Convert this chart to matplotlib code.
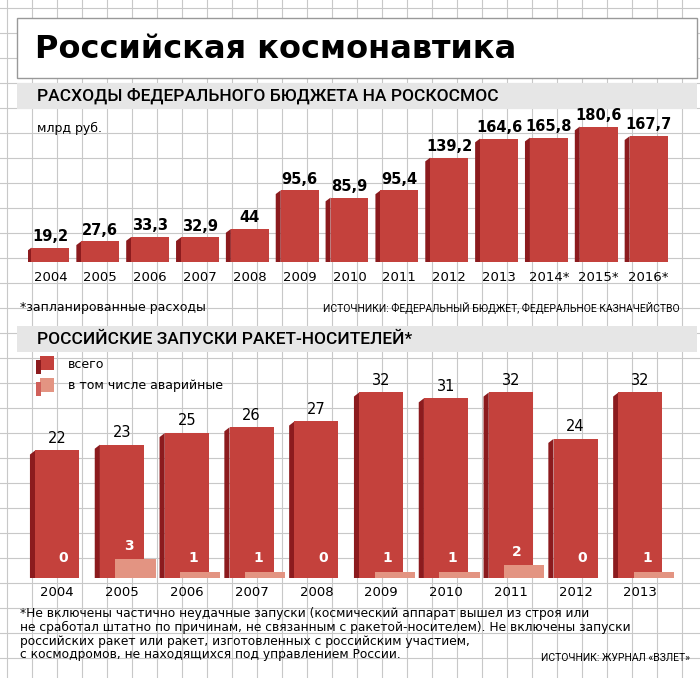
import matplotlib.pyplot as plt
from matplotlib.patches import Polygon, Rectangle

# data
budget_years = ['2004', '2005', '2006', '2007', '2008', '2009', '2010', '2011', '2012',
                '2013', '2014*', '2015*', '2016*']
budget = [19.2, 27.6, 33.3, 32.9, 44, 95.6, 85.9, 95.4, 139.2, 164.6, 165.8, 180.6, 167.7]

launch_years = ['2004', '2005', '2006', '2007', '2008', '2009', '2010', '2011', '2012', '2013']
launches = [22, 23, 25, 26, 27, 32, 31, 32, 24, 32]
failures = [0, 3, 1, 1, 0, 1, 1, 2, 0, 1]

footnote = ['*Не включены частично неудачные запуски (космический аппарат вышел из строя или',
            'не сработал штатно по причинам, не связанным с ракетой-носителем). Не включены запуски',
            'российских ракет или ракет, изготовленных с российским участием,',
            'с космодромов, не находящихся под управлением России.']

RED = '#c4413c'
DARK = '#8c1b1e'
LIGHT = '#e39482'
W, H = 700, 678

fig = plt.figure(figsize=(7, 6.78), dpi=100)
bg = fig.add_axes([0, 0, 1, 1])
bg.set_xlim(0, W); bg.set_ylim(H, 0); bg.axis('off')
for x in range(7, W, 25):
    bg.axvline(x, color='#c8c8c8', lw=0.8, zorder=0)
for y in range(8, H, 25):
    bg.axhline(y, color='#c8c8c8', lw=0.8, zorder=0)

# title box
bg.add_patch(Rectangle((17, 18), 680, 60, fc='white', ec='#999999', lw=1, zorder=1))
bg.text(35, 50, 'Российская космонавтика', fontsize=23, fontweight='bold', va='center', zorder=2)
for y0, txt in [(83, 'РАСХОДЫ ФЕДЕРАЛЬНОГО БЮДЖЕТА НА РОСКОСМОС'),
                (326, 'РОССИЙСКИЕ ЗАПУСКИ РАКЕТ-НОСИТЕЛЕЙ*')]:
    bg.add_patch(Rectangle((17, y0), 680, 26, fc='#e6e6e6', ec='none', zorder=1))
    bg.text(37, y0 + 13, txt, fontsize=12.5, va='center', fontfamily='Roboto',
            fontweight='medium', zorder=2)
bg.text(37, 128, 'млрд руб.', fontsize=9, va='center', zorder=2)
bg.text(20, 308, '*запланированные расходы', fontsize=9, va='center', zorder=2)
bg.text(680, 308, 'ИСТОЧНИКИ: ФЕДЕРАЛЬНЫЙ БЮДЖЕТ, ФЕДЕРАЛЬНОЕ КАЗНАЧЕЙСТВО',
        fontsize=7.5, va='center', ha='right', fontfamily='Roboto', zorder=2)
for k, line in enumerate(footnote):
    bg.text(20, 614 + k * 13.5, line, fontsize=8.8, va='center', zorder=2)
bg.text(690, 658, 'ИСТОЧНИК: ЖУРНАЛ «ВЗЛЕТ»', fontsize=7.5, ha='right', va='center',
        fontfamily='Roboto', zorder=2)
# legend
bg.add_patch(Rectangle((40, 356), 14, 14, fc=RED, ec='none', zorder=2))
bg.add_patch(Rectangle((36, 360), 5, 14, fc=DARK, ec='none', zorder=2))
bg.text(68, 364, 'всего', fontsize=9, va='center', zorder=2)
bg.add_patch(Rectangle((40, 378), 14, 14, fc=LIGHT, ec='none', zorder=2))
bg.add_patch(Rectangle((36, 382), 5, 14, fc='#d0605a', ec='none', zorder=2))
bg.text(68, 385, 'в том числе аварийные', fontsize=9, va='center', zorder=2)


def bar3d(ax, x, h, w, dx, dy, color):
    ax.add_patch(Polygon([(x - w / 2, 0), (x - w / 2, h), (x - w / 2 - dx, h - dy), (x - w / 2 - dx, -dy)],
                         closed=True, fc=DARK, ec='none', zorder=2))
    ax.add_patch(Polygon([(x - w / 2 - dx, -dy), (x + w / 2 + dx, -dy), (x + w / 2 + 2 * dx, 0), (x - w / 2, 0)],
                         closed=True, fc=DARK, ec='none', zorder=2))
    ax.bar(x, h, w, color=color, zorder=3)


# top chart
ax1 = fig.add_axes([28 / W, (H - 262) / H, 648 / W, 150 / H])
ax1.set_xlim(-0.45, 12.55); ax1.set_ylim(0, 200); ax1.axis('off')
for i, v in enumerate(budget):
    bar3d(ax1, i, v, 0.76, 0.1, 5, RED)
    ax1.text(i, v + 5, f'{v:g}'.replace('.', ','), ha='center', va='bottom', fontsize=10.5,
             fontweight='bold', zorder=4)
    ax1.text(i, -12, budget_years[i], ha='center', va='top', fontsize=9.5, zorder=4)

# bottom chart
ax2 = fig.add_axes([28 / W, (H - 578) / H, 648 / W, 200 / H])
ax2.set_xlim(-0.45, 9.55); ax2.set_ylim(0, 34.5); ax2.axis('off')
for i, v in enumerate(launches):
    bar3d(ax2, i, v, 0.68, 0.08, 0.7, RED)
    ax2.text(i, v + 0.8, str(v), ha='center', va='bottom', fontsize=10.5, zorder=4)
    f = failures[i]
    if f:
        ax2.add_patch(Rectangle((i - 0.1, 0), 0.62, f * 1.1, fc=LIGHT, ec='none', zorder=5))
    ax2.text(i + 0.1, max(3.4, f * 1.1 + 2.2), str(f), ha='center', va='center', fontsize=10,
             fontweight='bold', color='white', zorder=6)
    ax2.text(i, -1.4, launch_years[i], ha='center', va='top', fontsize=9.5, zorder=4)

fig.savefig('out.png', dpi=100, facecolor='white')
